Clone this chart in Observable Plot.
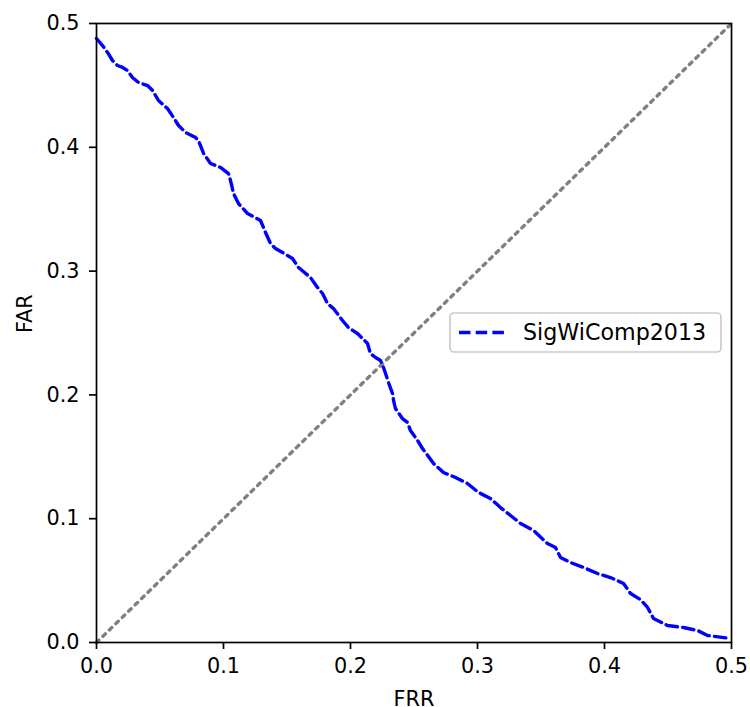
<!DOCTYPE html>
<html><head><meta charset="utf-8">
<script src="https://cdn.jsdelivr.net/npm/d3@7"></script>
<script src="https://cdn.jsdelivr.net/npm/@observablehq/plot@0.6"></script>
<style>body{margin:0;background:#fff}</style>
</head><body><div id="chart"></div>
<script>
const frr = [0.0000,0.0047,0.0087,0.0126,0.0165,0.0205,0.0244,0.0283,0.0331,0.0402,0.0441,0.0488,0.0559,0.0606,0.0646,0.0701,0.0780,0.0803,0.0843,0.0898,0.0976,0.1039,0.1055,0.1079,0.1118,0.1189,0.1291,0.1331,0.1370,0.1409,0.1465,0.1543,0.1591,0.1685,0.1740,0.1780,0.1819,0.1866,0.1937,0.1984,0.2055,0.2134,0.2157,0.2197,0.2236,0.2260,0.2276,0.2299,0.2331,0.2339,0.2354,0.2409,0.2449,0.2472,0.2528,0.2567,0.2654,0.2732,0.2827,0.2921,0.3008,0.3102,0.3181,0.3260,0.3339,0.3441,0.3551,0.3614,0.3638,0.3654,0.3732,0.3835,0.3945,0.4047,0.4150,0.4205,0.4283,0.4339,0.4386,0.4496,0.4622,0.4732,0.4811,0.4992];
const far = [0.4879,0.4822,0.4766,0.4701,0.4661,0.4645,0.4620,0.4564,0.4523,0.4499,0.4459,0.4378,0.4313,0.4241,0.4176,0.4120,0.4079,0.4055,0.3950,0.3869,0.3837,0.3788,0.3732,0.3627,0.3546,0.3465,0.3409,0.3312,0.3223,0.3183,0.3150,0.3102,0.3029,0.2948,0.2868,0.2819,0.2738,0.2698,0.2601,0.2544,0.2496,0.2415,0.2334,0.2302,0.2278,0.2221,0.2173,0.2100,0.2011,0.1955,0.1890,0.1809,0.1777,0.1712,0.1632,0.1567,0.1446,0.1373,0.1333,0.1284,0.1212,0.1163,0.1090,0.1026,0.0961,0.0905,0.0800,0.0767,0.0719,0.0687,0.0646,0.0606,0.0557,0.0525,0.0477,0.0396,0.0347,0.0283,0.0194,0.0137,0.0121,0.0097,0.0057,0.0032];
const seriesName = "SigWiComp2013";
const diagFrr = [0, 0.5];
const diagFar = [0, 0.5];
const xTicks = [0, 0.1, 0.2, 0.3, 0.4, 0.5];
const yTicks = [0, 0.1, 0.2, 0.3, 0.4, 0.5];
const xLabel = "FRR";
const yLabel = "FAR";

const curve = frr.map((x, i) => ({x, y: far[i]}));
const diag = diagFrr.map((x, i) => ({x, y: diagFar[i]}));
const FS = 20.8;
const LW = 3.4;
const DASH = "11.5,5.2";

const plot = Plot.plot({
  width: 750, height: 707,
  marginLeft: 96, marginRight: 19, marginTop: 23, marginBottom: 65,
  style: {fontFamily: "DejaVu Sans", fontSize: FS + "px", color: "black", background: "white"},
  x: {domain: [0, 0.5]},
  y: {domain: [0, 0.5]},
  marks: [
    Plot.line(diag, {x: "x", y: "y", stroke: "#808080", strokeWidth: LW, strokeDasharray: "3.4,5.6"}),
    Plot.line(curve, {x: "x", y: "y", stroke: "#0000ff", strokeWidth: LW, strokeDasharray: DASH}),
    Plot.frame({stroke: "black", strokeWidth: 1.7}),
    Plot.axisX({ticks: xTicks, tickFormat: d3.format(".1f"), tickSize: 7, tickPadding: 9, strokeWidth: 1.7, label: null, fontSize: FS}),
    Plot.axisY({ticks: yTicks, tickFormat: d3.format(".1f"), tickSize: 7, tickPadding: 10, strokeWidth: 1.7, label: null, fontSize: FS}),
    Plot.text([xLabel], {text: d => d, frameAnchor: "bottom", dy: 57, lineAnchor: "middle", fontSize: FS, fill: "black"}),
    Plot.text([yLabel], {text: d => d, frameAnchor: "left", dx: -71.5, rotate: -90, lineAnchor: "middle", fontSize: FS, fill: "black"})
  ]
});

const svg = d3.select(plot);
const lg = svg.append("g");
lg.append("rect").attr("x", 450).attr("y", 313).attr("width", 271).attr("height", 39).attr("rx", 4)
  .attr("fill", "white").attr("fill-opacity", 0.8).attr("stroke", "#cccccc").attr("stroke-width", 1.7);
lg.append("line").attr("x1", 459).attr("x2", 506).attr("y1", 332.5).attr("y2", 332.5)
  .attr("stroke", "#0000ff").attr("stroke-width", LW).attr("stroke-dasharray", DASH);
lg.append("text").attr("x", 523).attr("y", 339.5).attr("font-size", 22.2).attr("fill", "black")
  .attr("text-anchor", "start").attr("font-family", "DejaVu Sans").text(seriesName);

document.getElementById("chart").appendChild(plot);
</script>
</body></html>
